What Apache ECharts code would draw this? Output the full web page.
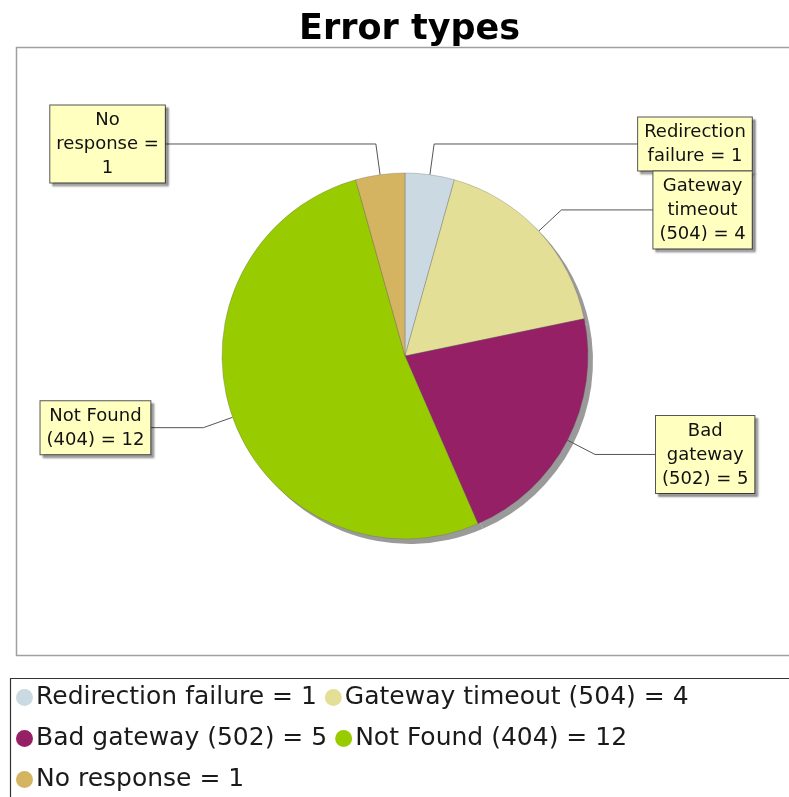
<!DOCTYPE html>
<html>
<head>
<meta charset="utf-8">
<script src="https://cdn.jsdelivr.net/npm/echarts@6/dist/echarts.min.js"></script>
<style>
html,body{margin:0;padding:0;background:#fff;}
#chart{width:789px;height:797px;}
</style>
</head>
<body>
<div id="chart"></div>
<script>
var categories = ['Redirection failure', 'Gateway timeout (504)', 'Bad gateway (502)', 'Not Found (404)', 'No response'];
var values = [1, 4, 5, 12, 1];
var colors = ['#cbd9e2', '#e4df97', '#962066', '#99cc00', '#d4b460'];
var labelLines = [
  ['Redirection', 'failure = 1'],
  ['Gateway', 'timeout', '(504) = 4'],
  ['Bad', 'gateway', '(502) = 5'],
  ['Not Found', '(404) = 12'],
  ['No', 'response =', '1']
];
// horizontal leader segment lengths (style only)
var leaderLen2 = [204, 92, 61, 53, 211];

var chart = echarts.init(document.getElementById('chart'));
var mainData = categories.map(function (c, i) {
  return { name: c, value: values[i], itemStyle: { color: colors[i] }, labelLine: { length2: leaderLen2[i] } };
});
var shadowData = categories.map(function (c, i) {
  return { name: c, value: values[i] };
});

var FONT = "'DejaVu Sans', sans-serif";

chart.setOption({
  animation: false,
  title: {
    text: 'Error types',
    left: 294,
    top: 7,
    textStyle: { fontFamily: FONT, fontWeight: 'bold', fontSize: 35, color: '#000' }
  },
  graphic: [
    { type: 'rect', z: -10, shape: { x: 16.5, y: 47.5, width: 780, height: 608 },
      style: { fill: '#fff', stroke: '#a0a0a0', lineWidth: 1.5 } },
    { type: 'rect', z: -10, shape: { x: 10.5, y: 678.5, width: 790, height: 130 },
      style: { fill: '#fff', stroke: '#333', lineWidth: 1.2 } }
  ],
  legend: {
    left: 16,
    top: 681,
    width: 740,
    orient: 'horizontal',
    icon: 'circle',
    itemWidth: 17,
    itemHeight: 17,
    itemGap: 8,
    padding: 0,
    data: categories,
    itemStyle: { borderWidth: 0 },
    formatter: function (name) {
      return name + ' = ' + values[categories.indexOf(name)];
    },
    textStyle: { fontFamily: FONT, fontSize: 25, color: '#1a1a1a', padding: [0, 0, 0, -2], lineHeight: 33, height: 33 }
  },
  series: [
    {
      type: 'pie',
      z: 2,
      center: [405, 356],
      radius: 183,
      startAngle: 90,
      clockwise: true,
      avoidLabelOverlap: false,
      labelLayout: { hideOverlap: false },
      itemStyle: { borderColor: 'rgba(90,90,90,0.5)', borderWidth: 0.6 },
      label: {
        show: true,
        fontFamily: FONT,
        fontSize: 18,
        color: '#111',
        lineHeight: 24,
        backgroundColor: '#ffffc0',
        borderColor: '#555',
        borderWidth: 1,
        padding: [3, 6, 2, 6],
        distanceToLabelLine: 0,
        shadowColor: 'rgba(0,0,0,0.35)',
        shadowOffsetX: 3,
        shadowOffsetY: 3,
        shadowBlur: 2,
        formatter: function (p) {
          return labelLines[p.dataIndex].map(function (l) { return '{c|' + l + '}'; }).join('\n');
        },
        rich: { c: { align: 'center', fontFamily: FONT, fontSize: 18, color: '#111', lineHeight: 24 } }
      },
      labelLine: {
        show: true,
        length: 31,
        lineStyle: { color: '#555', width: 1 }
      },
      data: mainData
    },
    {
      type: 'pie',
      silent: true,
      z: 1,
      center: [410, 361],
      radius: 183,
      startAngle: 90,
      clockwise: true,
      label: { show: false },
      labelLine: { show: false },
      itemStyle: { color: '#9a9a9a' },
      data: shadowData,
      legendHoverLink: false
    }
  ]
});
</script>
</body>
</html>
